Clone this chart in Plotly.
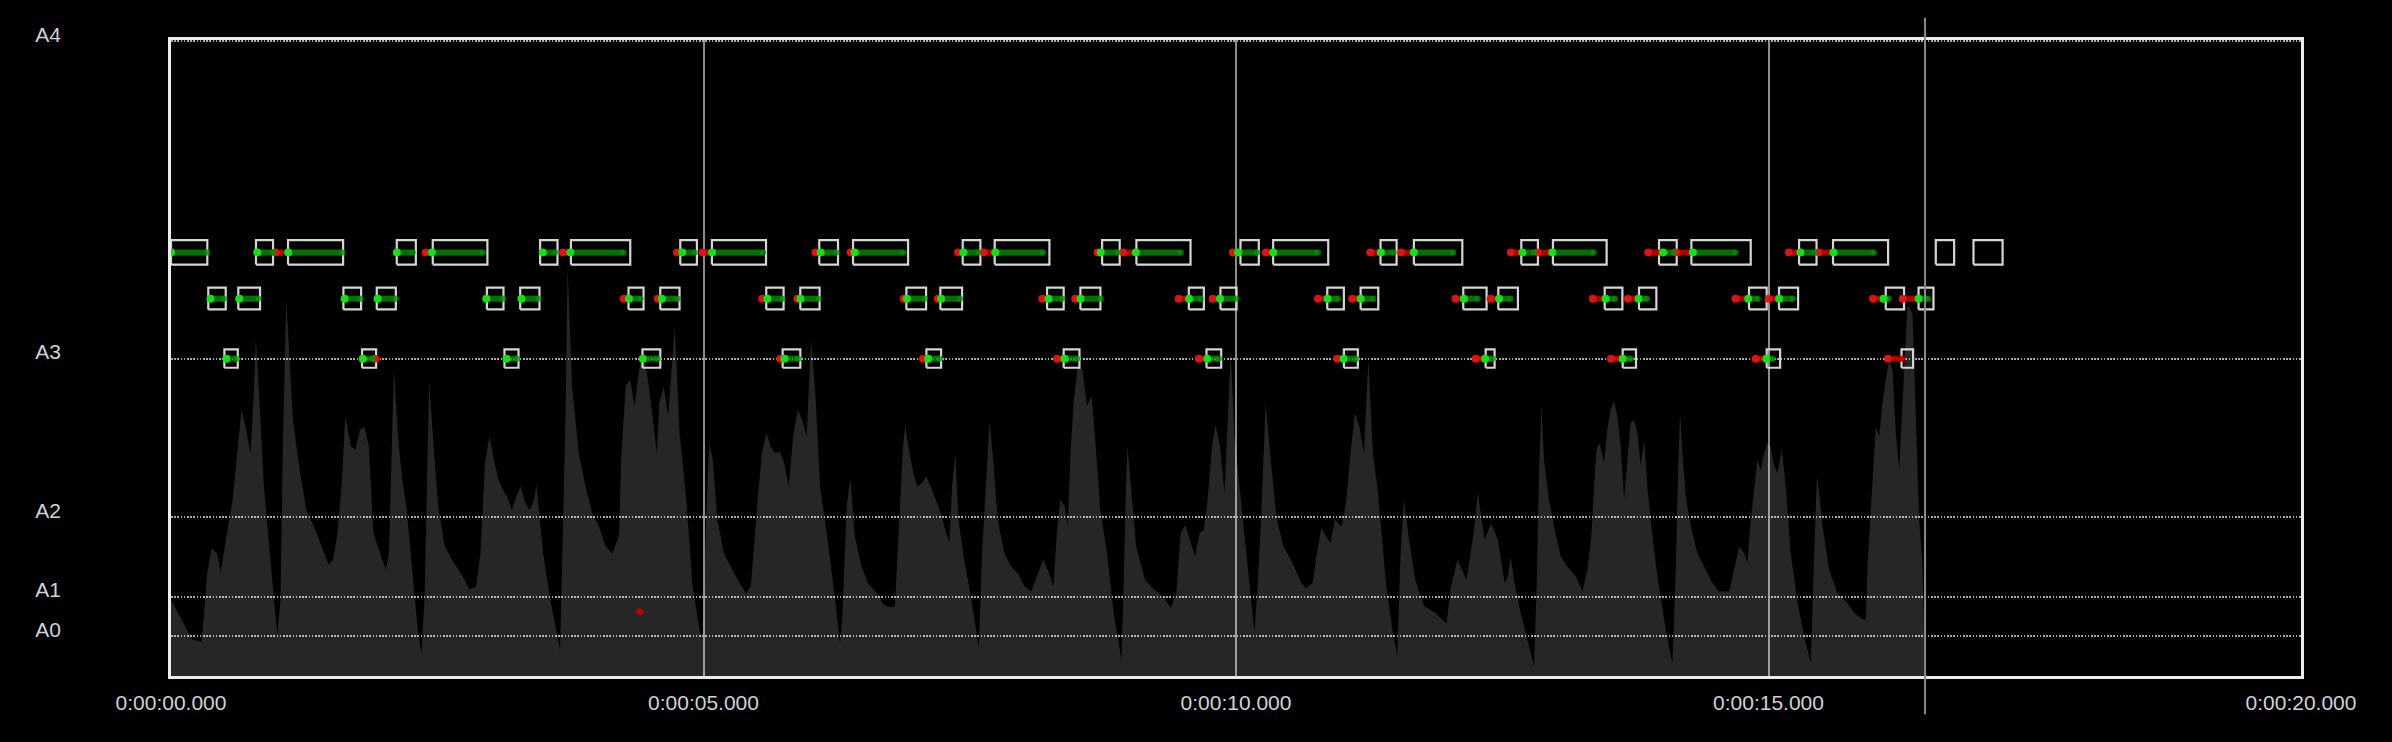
import plotly.graph_objects as go

# ---------------- data ----------------
time_tick_vals = [0, 5, 10, 15, 20]
time_tick_labels = ["0:00:00.000", "0:00:05.000", "0:00:10.000", "0:00:15.000", "0:00:20.000"]

pitch_tick_hz = [27.5, 55.0, 110.0, 220.0, 440.0]
pitch_tick_labels = ["A0", "A1", "A2", "A3", "A4"]

note_hz = {"A3": 220.0, "C4": 261.63, "D4": 293.66}

# target notes (seconds)
d4_start = [0.00, 0.798, 1.099, 2.120, 2.458, 3.466, 3.755, 4.782, 5.079, 6.087, 6.404, 7.434, 7.734,
            8.743, 9.065, 10.042, 10.349, 11.357, 11.670, 12.679, 12.976, 13.972, 14.276, 15.287,
            15.606, 16.571, 16.925]
d4_end = [0.341, 0.958, 1.616, 2.299, 2.971, 3.629, 4.312, 4.938, 5.587, 6.263, 6.921, 7.600, 8.248,
          8.908, 9.573, 10.214, 10.866, 11.508, 12.125, 12.835, 13.480, 14.138, 14.833, 15.451,
          16.123, 16.743, 17.198]
c4_start = [0.350, 0.632, 1.619, 1.932, 2.966, 3.279, 4.296, 4.594, 5.589, 5.909, 6.905, 7.224, 8.226,
            8.539, 9.557, 9.854, 10.857, 11.170, 12.134, 12.463, 13.462, 13.784, 14.817, 15.099,
            16.101, 16.409]
c4_end = [0.514, 0.836, 1.785, 2.111, 3.122, 3.460, 4.437, 4.775, 5.752, 6.090, 7.090, 7.428, 8.382,
          8.727, 9.698, 10.005, 11.013, 11.336, 12.353, 12.647, 13.628, 13.947, 14.983, 15.278,
          16.273, 16.549]
a3_start = [0.501, 1.794, 3.131, 4.427, 5.743, 7.093, 8.382, 9.723, 11.013, 12.344, 13.631, 14.983, 16.249]
a3_end = [0.627, 1.926, 3.263, 4.594, 5.909, 7.231, 8.530, 9.861, 11.144, 12.428, 13.756, 15.109, 16.358]

# sung pitch: in tune (green) and off (red) stretches
green_d4 = [(0.00, 0.34), (0.81, 0.96), (1.10, 1.61), (2.12, 2.27), (2.45, 2.93), (3.49, 3.61), (3.75, 4.25),
            (4.80, 4.92), (5.08, 5.56), (6.10, 6.25), (6.42, 6.88), (7.44, 7.58), (7.74, 8.19), (8.73, 8.89),
            (9.06, 9.48), (10.02, 10.20), (10.35, 10.77), (11.36, 11.48), (11.67, 12.04), (12.69, 12.80),
            (12.97, 13.36), (14.01, 14.11), (14.29, 14.69), (15.30, 15.43), (15.61, 15.99)]
green_c4 = [(0.37, 0.50), (0.64, 0.82), (1.63, 1.78), (1.94, 2.11), (2.96, 3.12), (3.29, 3.45), (4.30, 4.41),
            (4.61, 4.76), (5.60, 5.74), (5.91, 6.08), (6.91, 7.08), (7.23, 7.41), (8.24, 8.37), (8.54, 8.73),
            (9.56, 9.67), (9.85, 10.00), (10.86, 10.96), (11.17, 11.29), (12.14, 12.27), (12.47, 12.58),
            (13.47, 13.56), (13.78, 13.86), (14.81, 14.90), (15.10, 15.23), (16.08, 16.13), (16.41, 16.50)]
green_a3 = [(0.52, 0.62), (1.80, 1.90), (3.15, 3.25), (4.43, 4.57), (5.76, 5.89), (7.11, 7.22), (8.39, 8.51),
            (9.73, 9.84), (11.01, 11.13), (12.34, 12.41), (13.63, 13.71), (14.98, 15.04)]
red_d4 = [(0.98, 1.04), (2.39, 2.43), (3.68, 3.73), (4.75, 4.78), (4.99, 5.04), (6.05, 6.08), (6.38, 6.41),
          (7.39, 7.43), (7.63, 7.74), (8.70, 8.73), (8.94, 9.04), (9.97, 10.01), (10.28, 10.34), (11.26, 11.34),
          (11.55, 11.66), (12.58, 12.65), (12.83, 12.95), (13.87, 13.99), (14.13, 14.27), (15.19, 15.27),
          (15.47, 15.60)]
red_c4 = [(4.25, 4.28), (4.57, 4.59), (5.55, 5.58), (5.88, 5.90), (6.88, 6.91), (7.20, 7.22), (8.18, 8.21),
          (8.49, 8.52), (9.46, 9.56), (9.78, 9.84), (10.77, 10.84), (11.09, 11.15), (12.06, 12.13),
          (12.39, 12.46), (13.35, 13.46), (13.68, 13.77), (14.69, 14.80), (15.00, 15.08), (15.98, 16.07),
          (16.26, 16.38)]
red_a3 = [(1.91, 1.94), (5.72, 5.75), (7.06, 7.10), (8.32, 8.37), (9.65, 9.72), (10.95, 11.01), (12.25, 12.33),
          (13.52, 13.61), (14.88, 14.97), (16.12, 16.26)]
stray_t = [4.40]
stray_hz = [44.6]

cursor_time = 16.47

# volume envelope (0-100)
wave_t = [0.00, 0.201, 0.285, 0.306, 0.340, 0.382, 0.432, 0.466, 0.495, 0.537, 0.579, 0.621, 0.663, 0.705,
          0.747, 0.776, 0.797, 0.830, 0.872, 0.914, 0.956, 0.998, 1.028, 1.049, 1.082, 1.145, 1.208, 1.271,
          1.355, 1.418, 1.481, 1.522, 1.564, 1.606, 1.636, 1.690, 1.732, 1.774, 1.816, 1.858, 1.900, 1.963,
          2.017, 2.047, 2.068, 2.093, 2.131, 2.172, 2.214, 2.277, 2.319, 2.353, 2.382, 2.403, 2.424, 2.466,
          2.508, 2.571, 2.655, 2.739, 2.802, 2.864, 2.906, 2.948, 2.990, 3.032, 3.074, 3.116, 3.158, 3.200,
          3.242, 3.284, 3.326, 3.368, 3.410, 3.431, 3.452, 3.494, 3.556, 3.619, 3.653, 3.682, 3.703, 3.724,
          3.766, 3.829, 3.892, 3.955, 4.018, 4.081, 4.144, 4.206, 4.227, 4.269, 4.311, 4.353, 4.395, 4.437,
          4.479, 4.521, 4.563, 4.584, 4.626, 4.668, 4.710, 4.731, 4.773, 4.836, 4.898, 4.961, 4.995, 5.024,
          5.054, 5.087, 5.129, 5.192, 5.255, 5.339, 5.402, 5.444, 5.506, 5.548, 5.590, 5.632, 5.674, 5.716,
          5.758, 5.800, 5.842, 5.884, 5.926, 5.968, 6.010, 6.052, 6.094, 6.157, 6.220, 6.282, 6.303, 6.345,
          6.378, 6.420, 6.483, 6.546, 6.630, 6.693, 6.734, 6.797, 6.818, 6.848, 6.873, 6.894, 6.923, 6.965,
          7.007, 7.049, 7.091, 7.133, 7.217, 7.280, 7.309, 7.334, 7.364, 7.393, 7.447, 7.510, 7.552, 7.586,
          7.615, 7.657, 7.686, 7.720, 7.762, 7.825, 7.888, 7.951, 8.014, 8.076, 8.139, 8.190, 8.244, 8.286,
          8.316, 8.349, 8.391, 8.420, 8.446, 8.475, 8.517, 8.559, 8.601, 8.643, 8.676, 8.726, 8.789, 8.852,
          8.894, 8.924, 8.945, 8.966, 8.982, 9.012, 9.062, 9.146, 9.230, 9.314, 9.389, 9.439, 9.481, 9.523,
          9.565, 9.616, 9.658, 9.699, 9.733, 9.775, 9.808, 9.850, 9.892, 9.922, 9.951, 9.985, 10.027, 10.069,
          10.132, 10.173, 10.203, 10.236, 10.278, 10.320, 10.383, 10.446, 10.530, 10.614, 10.656, 10.719,
          10.760, 10.802, 10.844, 10.886, 10.928, 10.991, 11.033, 11.075, 11.117, 11.159, 11.201, 11.243,
          11.285, 11.327, 11.369, 11.411, 11.473, 11.515, 11.545, 11.578, 11.620, 11.683, 11.767, 11.872,
          11.977, 12.019, 12.081, 12.165, 12.228, 12.270, 12.333, 12.396, 12.459, 12.523, 12.554, 12.579,
          12.610, 12.673, 12.736, 12.798, 12.823, 12.845, 12.867, 12.892, 12.939, 12.986, 13.049, 13.111,
          13.190, 13.252, 13.299, 13.337, 13.362, 13.384, 13.415, 13.456, 13.487, 13.518, 13.550, 13.581,
          13.612, 13.644, 13.675, 13.706, 13.737, 13.769, 13.800, 13.831, 13.863, 13.910, 13.957, 14.004,
          14.051, 14.098, 14.129, 14.151, 14.170, 14.192, 14.223, 14.270, 14.333, 14.411, 14.474, 14.536,
          14.630, 14.677, 14.724, 14.771, 14.802, 14.834, 14.871, 14.896, 14.927, 14.959, 14.990, 15.021,
          15.053, 15.084, 15.125, 15.162, 15.209, 15.272, 15.335, 15.397, 15.429, 15.454, 15.476, 15.507,
          15.569, 15.648, 15.741, 15.804, 15.883, 15.914, 15.929, 15.961, 15.992, 16.007, 16.039, 16.070,
          16.102, 16.133, 16.165, 16.196, 16.227, 16.243, 16.274, 16.305, 16.352, 16.384, 16.415, 16.446,
          16.47]
wave_v = [12.0, 5.7, 5.4, 8.9, 16.2, 20.1, 19.3, 16.2, 19.3, 23.5, 27.7, 35.0, 41.9, 38.7,
          35.0, 44.0, 53.1, 43.4, 29.8, 21.9, 14.1, 6.5, 12.0, 35.0, 59.1, 40.3, 32.4, 26.1,
          23.0, 20.4, 17.5, 18.3, 22.5, 30.9, 40.8, 36.1, 35.6, 38.7, 39.2, 36.1, 22.5, 19.3,
          16.7, 19.3, 32.4, 48.4, 37.7, 30.9, 26.1, 14.1, 6.8, 3.6, 13.0, 29.8, 46.3, 36.1,
          26.7, 20.4, 17.8, 15.7, 13.6, 14.1, 19.3, 33.5, 37.7, 34.0, 30.9, 29.3, 28.2, 26.1,
          28.2, 29.8, 27.2, 26.1, 27.7, 30.1, 26.7, 19.3, 12.5, 7.3, 4.1, 24.6, 40.3, 64.3,
          45.5, 35.0, 29.8, 25.6, 23.5, 20.4, 19.3, 21.9, 34.0, 45.5, 46.6, 42.4, 48.1, 50.8,
          46.6, 40.8, 35.0, 42.9, 45.5, 40.8, 50.8, 55.0, 38.7, 28.2, 14.1, 7.3, 5.7, 24.6,
          36.6, 34.0, 24.6, 19.3, 17.2, 14.6, 13.0, 14.1, 27.2, 35.0, 38.2, 36.1, 35.0, 35.3,
          33.5, 29.8, 37.7, 41.9, 40.3, 37.7, 52.9, 44.0, 29.8, 22.5, 14.1, 5.2, 8.9, 26.7,
          30.9, 22.0, 17.2, 14.6, 13.0, 11.2, 10.9, 10.9, 17.8, 27.2, 36.1, 39.5, 36.1, 32.4,
          29.8, 30.3, 31.4, 29.8, 26.1, 22.5, 20.9, 29.8, 35.0, 24.6, 18.3, 12.5, 7.8, 4.4,
          19.3, 32.4, 40.0, 34.0, 24.6, 19.3, 17.2, 16.2, 14.1, 13.3, 16.2, 18.3, 16.2, 14.1,
          22.0, 27.7, 26.7, 23.5, 35.0, 42.9, 49.2, 48.1, 42.4, 44.2, 37.7, 26.1, 19.3, 9.9,
          5.7, 2.6, 14.1, 29.8, 36.1, 29.8, 20.4, 15.1, 13.6, 12.5, 10.7, 13.0, 22.5, 23.8,
          21.4, 18.8, 22.5, 23.0, 27.7, 36.1, 39.5, 36.1, 28.8, 40.3, 51.0, 37.7, 30.9, 24.6,
          14.1, 6.8, 14.1, 24.6, 42.9, 35.0, 24.6, 20.4, 17.8, 14.6, 13.8, 14.6,
          19.3, 23.3, 22.0, 20.9, 24.6, 23.5, 27.2, 35.0, 41.3, 39.2, 35.0, 49.7,
          35.0, 29.8, 22.0, 14.1, 6.8, 3.1, 19.3, 27.7, 22.0, 15.1, 11.0, 9.9,
          8.3, 14.1, 18.3, 15.1, 22.0, 28.8, 21.4, 24.0, 21.4, 14.6, 15.7, 18.8,
          15.1, 9.9, 5.7, 1.5, 14.1, 31.9, 42.6, 34.0, 27.7, 23.5, 18.8, 17.2,
          15.7, 13.3, 16.7, 22.0, 29.8, 35.6, 36.6, 33.5, 38.7, 41.9, 43.2, 40.8,
          36.1, 27.7, 34.0, 39.8, 40.3, 38.2, 33.0, 37.1, 29.8, 22.0, 15.7, 11.0,
          5.7, 2.0, 16.7, 32.4, 41.3, 35.0, 28.2, 23.5, 19.3, 16.7, 14.6, 13.3,
          13.3, 16.7, 20.4, 19.3, 17.8, 24.6, 30.9, 34.0, 32.4, 35.0, 36.6, 36.1,
          33.0, 31.9, 35.6, 29.8, 19.3, 11.5, 6.2, 2.0, 19.3, 31.4, 28.8, 23.5,
          16.7, 13.0, 11.5, 9.9, 8.9, 8.9, 17.2, 26.7, 36.1, 39.2, 37.7, 42.9,
          46.6, 49.7, 48.1, 38.2, 32.4, 37.7, 50.0, 58.4, 57.0, 40.3, 24.6, 17.2,
          0.0]

# ---------------- styling ----------------
BG = "#000000"
TEXT = "#d2d2d2"
FRAME = "#ececec"
BOX = "#d6d6d6"

fig = go.Figure()

# volume envelope (main y axis: volume 0-100)
fig.add_trace(go.Scatter(x=wave_t, y=wave_v, mode="lines", fill="tozeroy",
                         fillcolor="rgba(255,255,255,0.15)", line=dict(width=0, color="rgba(0,0,0,0)"),
                         hoverinfo="skip", showlegend=False, yaxis="y"))


def box_path(starts, ends, hz):
    lo = hz * 2 ** (-1 / 24)
    hi = hz * 2 ** (1 / 24)
    xs, ys = [], []
    for s, e in zip(starts, ends):
        xs += [s, e, e, s, s, None]
        ys += [lo, lo, hi, hi, lo, None]
    return xs, ys


for starts, ends, name in [(d4_start, d4_end, "D4"), (c4_start, c4_end, "C4"), (a3_start, a3_end, "A3")]:
    xs, ys = box_path(starts, ends, note_hz[name])
    fig.add_trace(go.Scatter(x=xs, y=ys, mode="lines", line=dict(color=BOX, width=2.2),
                             hoverinfo="skip", showlegend=False, yaxis="y2"))


def seg_path(segs, hz):
    xs, ys = [], []
    for s, e in segs:
        xs += [s, e, None]
        ys += [hz, hz, None]
    return xs, ys


for segs_by_note, line_col, head_col in [
    ({"D4": red_d4, "C4": red_c4, "A3": red_a3}, "rgba(200,0,0,0.85)", "rgba(230,20,20,0.9)"),
    ({"D4": green_d4, "C4": green_c4, "A3": green_a3}, "rgba(0,150,0,0.75)", "rgba(20,225,20,1)"),
]:
    for name, segs in segs_by_note.items():
        xs, ys = seg_path(segs, note_hz[name])
        fig.add_trace(go.Scatter(x=xs, y=ys, mode="lines+markers",
                                 line=dict(color=line_col, width=6),
                                 marker=dict(color=line_col, size=6),
                                 hoverinfo="skip", showlegend=False, yaxis="y2"))
        fig.add_trace(go.Scatter(x=[s for s, _ in segs], y=[note_hz[name]] * len(segs), mode="markers",
                                 marker=dict(color=head_col, size=8),
                                 hoverinfo="skip", showlegend=False, yaxis="y2"))

fig.add_trace(go.Scatter(x=stray_t, y=stray_hz, mode="markers",
                         marker=dict(color="rgba(200,0,0,0.85)", size=7),
                         hoverinfo="skip", showlegend=False, yaxis="y2"))

# playback cursor
fig.add_shape(type="line", xref="x", yref="paper", x0=cursor_time, x1=cursor_time, y0=-0.06, y1=1.035,
              line=dict(color="#8a8a8a", width=2), layer="above")

fig.update_layout(
    width=2392, height=742,
    paper_bgcolor=BG, plot_bgcolor=BG,
    margin=dict(l=171, r=91, t=40, b=66),
    showlegend=False,
    xaxis=dict(range=[0, 20], tickvals=time_tick_vals, ticktext=time_tick_labels,
               showgrid=True, gridcolor="#8c8c8c", gridwidth=1.5, zeroline=False,
               showline=True, mirror=True, linecolor=FRAME, linewidth=3, ticks="",
               tickfont=dict(family="Liberation Sans Narrow, Liberation Sans, Arial", size=21, color=TEXT),
               ticklabelstandoff=6),
    yaxis=dict(range=[0, 100], showticklabels=False, showgrid=False, zeroline=False,
               showline=True, mirror=True, linecolor=FRAME, linewidth=3, ticks=""),
    yaxis2=dict(range=[0, 441], overlaying="y", side="left", tickvals=pitch_tick_hz,
                ticktext=pitch_tick_labels, showgrid=True, gridcolor="#a8a8a8", gridwidth=2,
                griddash="1.6px,1.6px", zeroline=False, showline=False, ticks="",
                tickfont=dict(family="Liberation Sans, Arial", size=21, color=TEXT),
                ticklabelstandoff=109, ticklabelshift=-7),
)

page_style = ("document.body.style.margin='0';document.body.style.background='#000';"
              "document.documentElement.style.background='#000';document.body.style.overflow='hidden';")
fig.write_html("out.html", post_script=page_style, config={"displayModeBar": False})
